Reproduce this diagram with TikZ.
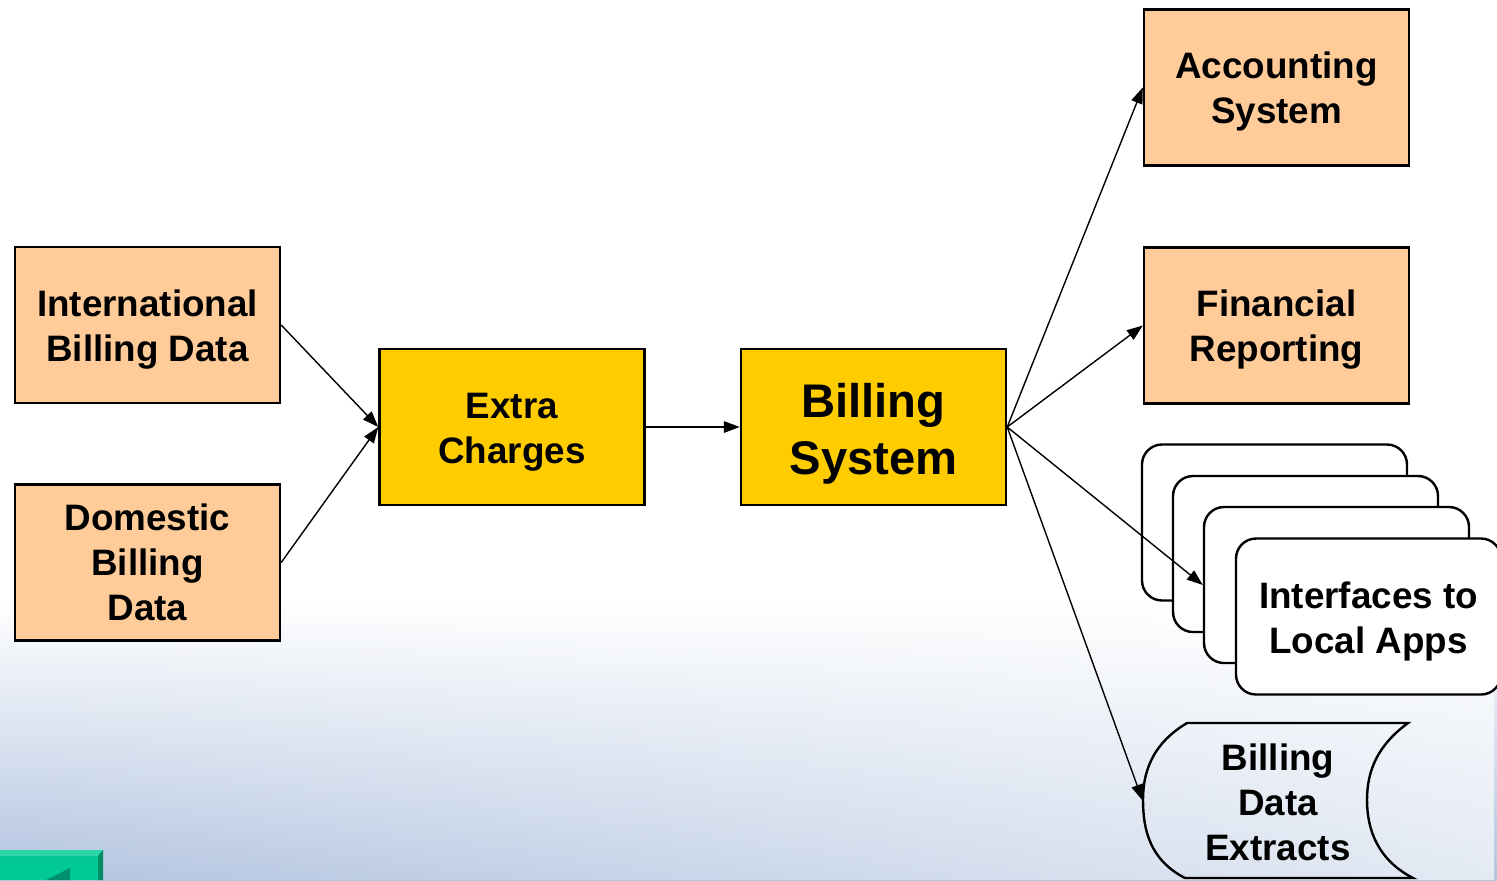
\documentclass[tikz,border=0pt]{standalone}
\usepackage{fontspec}
\setmainfont{Liberation Sans}
\usetikzlibrary{arrows.meta,fadings}

\definecolor{peach}{HTML}{FFCC99}
\definecolor{gold}{HTML}{FFCC00}
\definecolor{bgblue}{HTML}{B2C4E0}
\definecolor{btngreen}{HTML}{00C896}
\definecolor{btnlight}{HTML}{2DD6A8}
\definecolor{btnside}{HTML}{008C64}
\definecolor{btntri}{HTML}{009070}

\tikzfading[name=brighten, left color=transparent!100, right color=transparent!35]

% centred lines of text, drawn slightly lower than the box centre
\newcommand\boxtext[2][2.3pt]{\raisebox{-#1}[\height][\depth]{\begin{tabular}{@{}c@{}}#2\end{tabular}}}

\tikzset{
  box/.style={draw=black, line width=1.2pt, minimum width=132.5pt, minimum height=78pt,
              inner sep=0pt, align=center, font=\bfseries\fontsize{18.4}{22.5}\selectfont},
  srcbox/.style={box, fill=peach},
  procbox/.style={box, fill=gold},
  card/.style={box, fill=white, rounded corners=10pt},
  flow/.style={line width=0.7pt, -{Triangle[length=8pt,width=5.8pt]}},
}

\begin{document}
\begin{tikzpicture}[x=0.5pt,y=-0.5pt]
  \useasboundingbox (0,0) rectangle (1497,880);
  \clip (0,0) rectangle (1497,880);

  % slide background
  \fill[white] (0,0) rectangle (1497,880);
  \shade[top color=white, bottom color=bgblue] (0,600) rectangle (1497,880);
  \fill[white, path fading=brighten] (0,600) rectangle (1497,880);

  % navigation button, bottom left
  \fill[btngreen] (0,850) rectangle (103,880);
  \fill[btnlight] (0,850) -- (103,850) -- (98,856) -- (0,856) -- cycle;
  \fill[btnside] (98,856) -- (103,850) -- (103,880) -- (98,880) -- cycle;
  \fill[btntri] (46,880) -- (70,868) -- (70,880) -- cycle;

  % inputs
  \node[srcbox] (intl) at (147.5,325) {\boxtext[2.5pt]{International\\Billing Data}};
  \node[srcbox] (dom)  at (147.5,562.5) {\boxtext[2pt]{Domestic\\Billing\\Data}};

  % processing
  \node[procbox] (extra)   at (512,427) {\boxtext{Extra\\Charges}};
  \node[procbox, font=\bfseries\fontsize{23.6}{28.5}\selectfont] (billing) at (873.5,427)
        {\boxtext[4pt]{Billing\\System}};

  % outputs
  \node[srcbox] (acct) at (1276.5,87.5) {\boxtext{Accounting\\System}};
  \node[srcbox] (fin)  at (1276.5,325.5) {\boxtext{Financial\\Reporting}};

  % stacked interface cards
  \node[card] (card1) at (1274.5,522.5) {};
  \node[card] (card2) at (1305.5,554) {};
  \node[card] (card3) at (1336.5,585) {};
  \node[card] (card4) at (1368.5,616.5) {\boxtext[2.5pt]{Interfaces to\\Local Apps}};

  % stored data shape
  \node[minimum width=135pt, minimum height=77.5pt, inner sep=0pt, align=center,
        font=\bfseries\fontsize{18.4}{22.5}\selectfont] (extr) at (1278,800.5)
        {\boxtext[3pt]{Billing\\Data\\Extracts}};
  \draw[line width=1.2pt]
    (1187,723) -- (1408,723)
    .. controls (1378,745) and (1367,770) .. (1367,800)
    .. controls (1367,830) and (1378,860) .. (1413,878)
    -- (1185,878)
    .. controls (1150,860) and (1143,830) .. (1143,800)
    .. controls (1143,775) and (1150,745) .. cycle;

  % connectors
  \draw[flow] (intl.east) -- (extra.west);
  \draw[flow] (dom.east) -- (extra.west);
  \draw[flow] (extra.east) -- (billing.west);
  \draw[flow] (billing.east) -- (acct.west);
  \draw[flow] (billing.east) -- (fin.west);
  \draw[flow] (billing.east) -- (card3.west);
  \draw[flow] (billing.east) -- (extr.west);
\end{tikzpicture}
\end{document}
